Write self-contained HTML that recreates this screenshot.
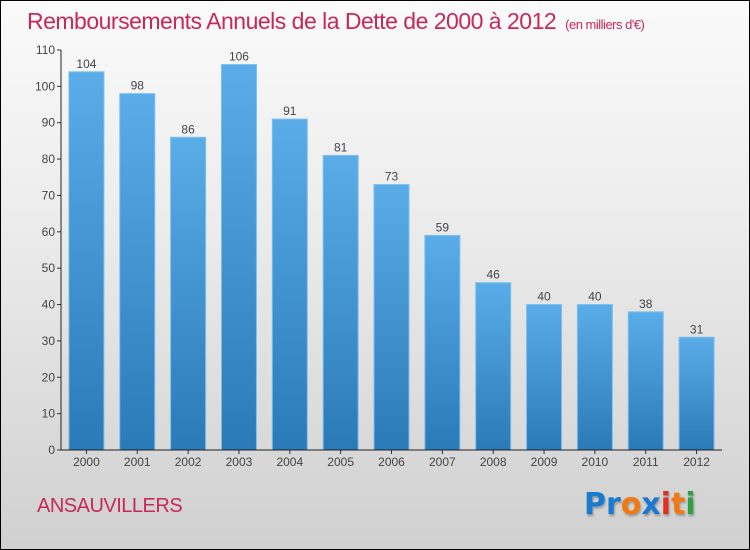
<!DOCTYPE html>
<html><head><meta charset="utf-8"><style>
body{margin:0;}
#wrap{width:750px;height:550px;position:relative;box-sizing:border-box;border:1px solid #000;background:linear-gradient(#fafafa,#ececec 40%,#d0d0d0);font-family:"Liberation Sans",sans-serif;overflow:hidden}
.t{position:absolute;white-space:nowrap}
</style></head><body>
<div id="wrap">
<div class="t" style="left:26px;top:7px;font-size:23px;color:#c8285a;letter-spacing:-0.5px">Remboursements Annuels de la Dette de 2000 à 2012 <span style="font-size:13px">&nbsp;(en milliers d'€)</span></div>
<div class="t" style="left:36px;top:494px;font-size:20px;color:#c8285a;letter-spacing:-0.5px">ANSAUVILLERS</div>
<div class="t" style="left:583px;top:486px;font-size:30px;font-family:'DejaVu Sans',sans-serif;font-weight:bold;text-shadow:1px 2px 2px #999"><span style="color:#1a7ad0">Pr</span><span style="color:#f07a10">o</span><span style="color:#1a7ad0">x</span><span style="color:#e03020">i</span><span style="color:#f07a10">t</span><span style="color:#30a040">i</span></div>
<svg id="chart" width="750" height="550" style="position:absolute;left:-1px;top:-1px">
<defs><linearGradient id="g" x1="0" y1="0" x2="0" y2="1"><stop offset="0" stop-color="#5aade8"/><stop offset="1" stop-color="#2a7ab8"/></linearGradient></defs>
</svg>
</div>
<script>
const categories=["2000","2001","2002","2003","2004","2005","2006","2007","2008","2009","2010","2011","2012"];
const values=[104,98,86,106,91,81,73,59,46,40,40,38,31];
const yTicks=[0,10,20,30,40,50,60,70,80,90,100,110];
const svg=document.getElementById('chart');
const NS='http://www.w3.org/2000/svg';
const y0=450,y1=50,yMax=110,xL=61,xR=722;
const yS=v=>y0-(v/yMax)*(y0-y1);
const step=(xR-xL)/categories.length;
const xC=i=>xL+step*(i+0.5);
function mk(t,a){const e=document.createElementNS(NS,t);for(const k in a)e.setAttribute(k,a[k]);svg.appendChild(e);return e;}
yTicks.forEach(v=>{
 const l=mk('line',{x1:xL-4,x2:xL,y1:yS(v),y2:yS(v),stroke:'#333'});
 
 
 const t=mk('text',{x:xL-6,y:yS(v)+4,'text-anchor':'end','font-size':'12',fill:'#444','font-family':'Liberation Sans,sans-serif'});
 t.textContent=v;
 
 
});
categories.forEach((c,i)=>{
 const w=35,x=xC(i)-w/2,v=values[i];
 const r=mk('rect',{x:x,y:yS(v),width:w,height:y0-yS(v),fill:'url(#g)',stroke:'#7cc0ee','stroke-width':1});
 
 
 const t=mk('text',{x:xC(i),y:yS(v)-4,'text-anchor':'middle','font-size':'12',fill:'#444','font-family':'Liberation Sans,sans-serif'});
 t.textContent=v;
 
 
 const tk=mk('line',{x1:xC(i),x2:xC(i),y1:y0,y2:y0+4,stroke:'#333'});
 
 
 const xl=mk('text',{x:xC(i),y:y0+16,'text-anchor':'middle','font-size':'12',fill:'#444','font-family':'Liberation Sans,sans-serif'});
 xl.textContent=c;
 
 
});
const ya=mk('line',{x1:xL,x2:xL,y1:y1,y2:y0,stroke:'#222'});


const xa=mk('line',{x1:xL,x2:xR,y1:y0,y2:y0,stroke:'#222'});


</script>
</body></html>
